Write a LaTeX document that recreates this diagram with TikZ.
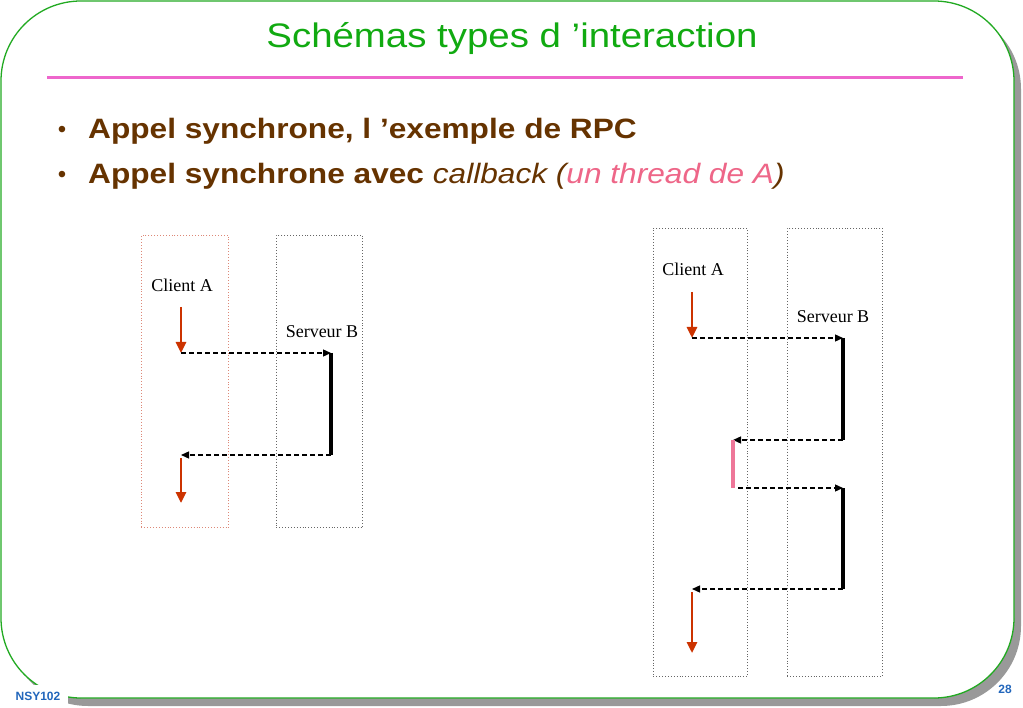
\documentclass[tikz,border=0pt]{standalone}
\usepackage{fontspec}
\setmainfont{Liberation Sans}
\newfontfamily\serifA{Liberation Serif}
\usetikzlibrary{arrows.meta}
\definecolor{framegreen}{HTML}{22AA22}
\definecolor{titlegreen}{HTML}{11AA11}
\definecolor{pinkline}{HTML}{EE66CC}
\definecolor{brownt}{HTML}{663300}
\definecolor{pinktext}{HTML}{EE6688}
\definecolor{redarrow}{HTML}{CC3300}
\definecolor{pinkbar}{HTML}{EE7799}
\definecolor{footblue}{HTML}{2266BB}
\definecolor{shadowc}{HTML}{999999}
\definecolor{dotgrey}{HTML}{666666}
\definecolor{dotred}{HTML}{DD8877}
\tikzset{
  clientbox/.style={draw=dotred, dotted, line width=0.9, inner sep=0, anchor=north west},
  srvbox/.style={draw=dotgrey, dotted, line width=0.9, inner sep=0, anchor=north west},
  flow/.style={draw=redarrow, line width=2.6, -{Triangle[length=11,width=10]}},
  msg/.style={draw=black, line width=1.3, dash pattern=on 5 off 3, -{Triangle[length=8,width=7]}},
  execbar/.style={draw=black, line width=4},
  cbbar/.style={draw=pinkbar, line width=4},
  lbl/.style={font=\serifA\fontsize{18}{20}\selectfont, inner sep=0},
  bul/.style={anchor=base west, inner sep=0, font=\fontsize{28}{32}\selectfont\bfseries, text=brownt},
  dot/.style={anchor=base, inner sep=0, text=brownt, font=\fontsize{24}{28}\selectfont},
}
\begin{document}
\begin{tikzpicture}[x=1pt,y=-1pt]
\useasboundingbox (0,0) rectangle (1023,708);
% frame
\fill[shadowc, rounded corners=80] (8,9) rectangle (1021,706);
\filldraw[fill=white, draw=framegreen, line width=1.3, rounded corners=80] (1,1) rectangle (1014,698);
\fill[white] (0,685) rectangle (68,708);
% title
\node[anchor=base, inner sep=0, text=titlegreen, font=\fontsize{34}{40}\selectfont] (title) at (512,48) {\scalebox{1.13}[1]{Schémas types d 'interaction}};
\draw[pinkline, line width=3] (47,78) -- (963,78);
% bullets
\node[dot] (b1) at (62,138) {•};
\node[bul] (t1) at (88,139) {\scalebox{1.13}[1]{Appel synchrone, l 'exemple de RPC}};
\node[dot] (b2) at (62,183) {•};
\node[bul] (t2) at (88,184) {\scalebox{1.13}[1]{Appel synchrone avec \mdseries\itshape callback (\textcolor{pinktext}{un thread de A})}};
% footer
\node[anchor=base, inner sep=0, text=footblue, font=\fontsize{12}{14}\selectfont\bfseries] (nsy) at (38,700) {NSY102};
\node[anchor=base, inner sep=0, text=footblue, font=\fontsize{12}{14}\selectfont\bfseries] (pg) at (1005,693) {28};

% ---------- left diagram ----------
\node[clientbox, minimum width=87, minimum height=292] (lca) at (141,235) {};
\node[srvbox, minimum width=86, minimum height=292] (lsb) at (276,235) {};
\node[lbl] (lcat) at (182,285) {Client A};
\node[lbl] (lsbt) at (322,332) {Serveur B};
\coordinate (l1) at (181,307);
\coordinate (l2) at (181,353);
\coordinate (l3) at (331,353);
\coordinate (l4) at (331,455);
\coordinate (l5) at (181,455);
\coordinate (l6) at (181,458);
\coordinate (l7) at (181,503);
\draw[flow] (l1) -- (l2);
\draw[msg] (l2) -- (l3);
\draw[execbar] (l3) -- (l4);
\draw[msg] (l4) -- (l5);
\draw[flow] (l6) -- (l7);

% ---------- right diagram ----------
\node[srvbox, minimum width=94, minimum height=448] (rca) at (653,228) {};
\node[srvbox, minimum width=95, minimum height=448] (rsb) at (787,228) {};
\node[lbl] (rcat) at (693,269) {Client A};
\node[lbl] (rsbt) at (833,317) {Serveur B};
\coordinate (r1) at (692,292);
\coordinate (r2) at (692,338);
\coordinate (r3) at (843,338);
\coordinate (r4) at (843,440);
\coordinate (r5) at (733,440);
\coordinate (r6) at (733,488);
\coordinate (r6b) at (738,488);
\coordinate (r7) at (843,488);
\coordinate (r8) at (843,589);
\coordinate (r9) at (692,589);
\coordinate (r10) at (692,592);
\coordinate (r11) at (692,653);
\draw[flow] (r1) -- (r2);
\draw[msg] (r2) -- (r3);
\draw[execbar] (r3) -- (r4);
\draw[msg] (r4) -- (r5);
\draw[cbbar] (r5) -- (r6);
\draw[msg] (r6b) -- (r7);
\draw[execbar] (r7) -- (r8);
\draw[msg] (r8) -- (r9);
\draw[flow] (r10) -- (r11);
\end{tikzpicture}
\end{document}
